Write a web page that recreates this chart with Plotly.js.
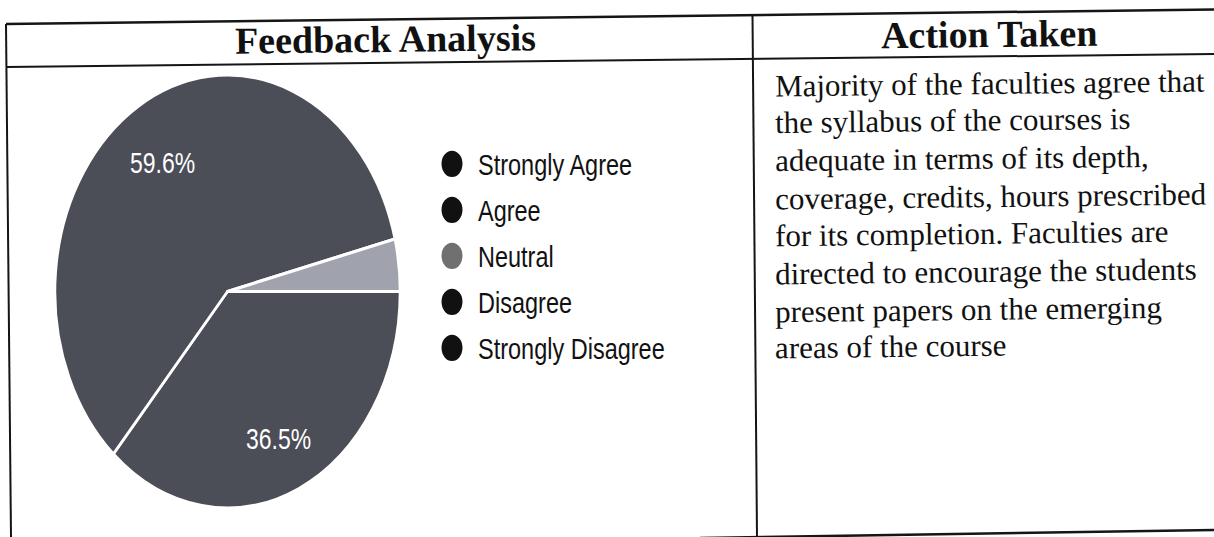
<!DOCTYPE html>
<html>
<head>
<meta charset="utf-8">
<script src="https://cdn.plot.ly/plotly-3.0.1.min.js"></script>
<style>
  html, body { margin: 0; padding: 0; background: #ffffff; }
  #page { position: relative; width: 1214px; height: 537px; overflow: hidden; }
  #table { position: absolute; left: 0; top: 0; width: 1214px; height: 537px; }
  #chart { position: absolute; left: 0; top: 70px; width: 760px; height: 360px;
           transform: scaleY(1.255); transform-origin: 0 0; }
</style>
</head>
<body>
<div id="page">
  <div id="table"></div>
  <div id="chart"></div>
</div>
<script>
// ---------------- data ----------------
const labels = ['Strongly Agree', 'Agree', 'Neutral', 'Disagree', 'Strongly Disagree'];
const shares = [36.5, 59.6, 3.9, 0, 0];
const sliceColors = ['#4b4d57', '#4b4d57', '#a0a2ad', '#4b4d57', '#4b4d57'];
const legendColors = ['#111111', '#111111', '#707070', '#111111', '#111111'];
const showPercent = [true, true, false, false, false];

const headerLeft = 'Feedback Analysis';
const headerRight = 'Action Taken';
const actionLines = [
  'Majority of the faculties agree that',
  'the syllabus of the courses is',
  'adequate in terms of its depth,',
  'coverage, credits, hours prescribed',
  'for its completion. Faculties are',
  'directed to encourage the students',
  'present papers on the emerging',
  'areas of the course'
];

// ---------------- table (document frame) ----------------
const W = 1214, H = 537;
const px = x => x / W;
const py = y => 1 - y / H;
const skew = -0.65;

function line(x0, y0, x1, y1, w) {
  return { type: 'line', xref: 'paper', yref: 'paper',
           x0: px(x0), y0: py(y0), x1: px(x1), y1: py(y1),
           line: { color: '#151515', width: w } };
}

const tableShapes = [
  line(6, 24, 1214, 9.5, 2.5),
  line(6, 67, 1214, 54, 2),
  line(6, 24, 11, 537, 2),
  line(752.5, 15, 757, 537, 2),
  line(700, 538, 1214, 530, 2.5)
];

const serif = 'Liberation Serif, Times New Roman, serif';
const tableAnn = [
  { text: '<b>' + headerLeft + '</b>', x: px(385), y: py(39), xanchor: 'center', yanchor: 'middle',
    font: { family: serif, size: 38, color: '#111' } },
  { text: '<b>' + headerRight + '</b>', x: px(989), y: py(34), xanchor: 'center', yanchor: 'middle',
    font: { family: serif, size: 38, color: '#111' } }
];
actionLines.forEach((t, i) => {
  tableAnn.push({ text: t, x: px(773), y: py(83 + i * 37.7), xanchor: 'left', yanchor: 'middle',
    font: { family: serif, size: 31, color: '#111' } });
});
tableAnn.forEach(a => { a.xref = 'paper'; a.yref = 'paper'; a.showarrow = false; a.textangle = skew; });

Plotly.newPlot('table', [], {
  width: W, height: H, margin: { l: 0, r: 0, t: 0, b: 0 },
  paper_bgcolor: '#ffffff', plot_bgcolor: '#ffffff',
  xaxis: { visible: false }, yaxis: { visible: false },
  shapes: tableShapes, annotations: tableAnn, showlegend: false
}, { staticPlot: true });

// ---------------- chart (pie + legend) ----------------
const CW = 760, CH = 360;
const sans = 'Liberation Sans, Arial, sans-serif';
// pie domain (pixels inside the chart box)
const pieLeft = 55, pieRight = 400, pieTop = 4, pieBottom = 349;
const pcx = (pieLeft + pieRight) / 2, pcy = (pieTop + pieBottom) / 2, pr = (pieRight - pieLeft) / 2;
const labelRadius = 0.72;

const pieTrace = {
  type: 'pie', labels: labels, values: shares, sort: false,
  direction: 'clockwise', rotation: 90,
  marker: { colors: sliceColors, line: { color: '#ffffff', width: 2.5 } },
  textinfo: 'none',
  domain: { x: [pieLeft / CW, pieRight / CW], y: [1 - pieBottom / CH, 1 - pieTop / CH] },
  showlegend: false, hoverinfo: 'none'
};

// percentage labels placed along each slice's mid-angle (clockwise from 3 o'clock)
const total = shares.reduce((a, b) => a + b, 0);
const pieAnn = [];
let acc = 0;
shares.forEach((v, i) => {
  const mid = (acc + v / 2) / total * 2 * Math.PI;
  acc += v;
  if (!showPercent[i]) return;
  const lx = pcx + labelRadius * pr * Math.cos(mid);
  const ly = pcy + labelRadius * pr * Math.sin(mid);
  pieAnn.push({ xref: 'paper', yref: 'paper', x: lx / CW, y: 1 - ly / CH,
    xanchor: 'center', yanchor: 'middle', showarrow: false, yshift: -4,
    text: (v / total * 100).toFixed(1) + '%',
    font: { family: sans, size: 23, color: '#ffffff' } });
});

const legendTraces = labels.map((lab, i) => ({
  type: 'scatter', mode: 'markers', x: [null], y: [null], name: lab,
  legendgroup: 'g' + i,
  marker: { symbol: 'circle', size: 16, color: legendColors[i],
            line: { color: legendColors[i], width: 5 } },
  hoverinfo: 'none'
}));

Plotly.newPlot('chart', [pieTrace].concat(legendTraces), {
  width: CW, height: CH, margin: { l: 0, r: 0, t: 0, b: 0 },
  paper_bgcolor: 'rgba(0,0,0,0)', plot_bgcolor: 'rgba(0,0,0,0)',
  xaxis: { visible: false }, yaxis: { visible: false },
  annotations: pieAnn,
  showlegend: true,
  legend: { x: (452 - 26) / CW, y: 1 - 53 / CH, xanchor: 'left', yanchor: 'top',
            bgcolor: 'rgba(0,0,0,0)', borderwidth: 0, itemwidth: 42,
            traceorder: 'grouped', tracegroupgap: 3.1,
            font: { family: sans, size: 23.5, color: '#111' } }
}, { staticPlot: true });
</script>
</body>
</html>
